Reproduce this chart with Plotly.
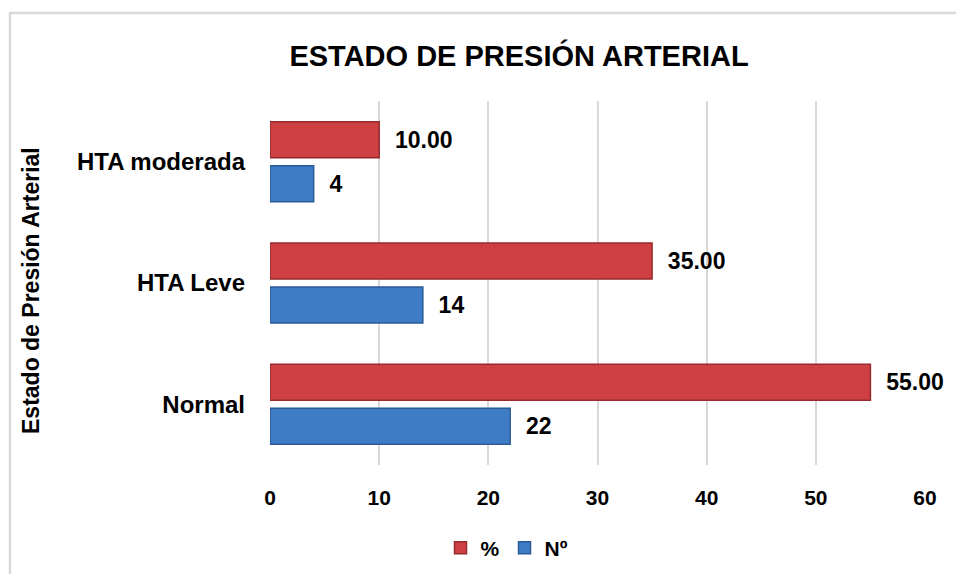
import plotly.graph_objects as go

categories = ["Normal", "HTA Leve", "HTA moderada"]
numero = [22, 14, 4]
porcentaje = [55.00, 35.00, 10.00]
x_ticks = [0, 10, 20, 30, 40, 50, 60]

FONT = "Arial, 'Liberation Sans', sans-serif"
NB = "\u00a0"

fig = go.Figure()
fig.add_trace(go.Bar(
    y=categories, x=numero, orientation="h", name="<b>Nº</b>",
    marker=dict(color="#3F7CC6", line=dict(color="#2B5A96", width=1.5)),
    text=[f"{NB*2}<b>{v}</b>" for v in numero], textposition="outside",
    textfont=dict(family=FONT, size=23, color="#000000"),
    cliponaxis=False, legendrank=2,
))
fig.add_trace(go.Bar(
    y=categories, x=porcentaje, orientation="h", name="<b>%</b>",
    marker=dict(color="#CF4043", line=dict(color="#962A2C", width=1.5)),
    text=[f"{NB*2}<b>{v:.2f}</b>" for v in porcentaje], textposition="outside",
    textfont=dict(family=FONT, size=23, color="#000000"),
    cliponaxis=False, legendrank=1,
))

L, R, T, B = 270, 31, 101, 109
W, H = 956, 574
pw, ph = W - L - R, H - T - B

def px(xp):
    return (xp - L) / pw

def py(yp):
    return (H - B - yp) / ph

fig.update_layout(
    width=W, height=H,
    margin=dict(l=L, r=R, t=T, b=B, pad=0, autoexpand=False),
    paper_bgcolor="white", plot_bgcolor="white",
    barmode="group", bargap=0.275, bargroupgap=0.18,
    font=dict(family=FONT, size=20, color="#000000"),
    title=dict(text="<b>ESTADO DE PRESIÓN ARTERIAL</b>", x=519 / W, xanchor="center",
               y=1 - 56 / H, yanchor="middle",
               font=dict(family=FONT, size=29, color="#000000")),
    xaxis=dict(range=[0, 60], tickvals=x_ticks, ticktext=[f"<b>{t}</b>" for t in x_ticks],
               showgrid=True, gridcolor="#D9D9D9", gridwidth=1.5,
               zeroline=False, showline=False, ticks="", ticklabelstandoff=18,
               tickfont=dict(family=FONT, size=21, color="#000000"), fixedrange=True),
    yaxis=dict(categoryorder="array", categoryarray=categories,
               tickvals=categories, ticktext=[f"<b>{c}</b>" for c in categories],
               showgrid=False, zeroline=False, showline=False, ticks="",
               ticklabelstandoff=24,
               tickfont=dict(family=FONT, size=24, color="#000000")),
    legend=dict(orientation="h", x=px(507), xanchor="center", y=py(548), yanchor="middle",
                font=dict(family=FONT, size=21, color="#000000"), itemwidth=30,
                traceorder="normal"),
    showlegend=True,
    annotations=[dict(text="<b>Estado de Presión Arterial</b>", textangle=-90,
                      xref="paper", yref="paper", x=px(31), y=py(291),
                      xanchor="center", yanchor="middle", showarrow=False,
                      font=dict(family=FONT, size=23, color="#000000"))],
    shapes=[
        dict(type="line", xref="paper", yref="paper", x0=px(10), x1=px(10),
             y0=py(13), y1=py(600), line=dict(color="#D9D9D9", width=2.5)),
        dict(type="line", xref="paper", yref="paper", x0=px(9), x1=px(970),
             y0=py(13), y1=py(13), line=dict(color="#D9D9D9", width=2.5)),
    ],
)

fig.write_html("out.html")
